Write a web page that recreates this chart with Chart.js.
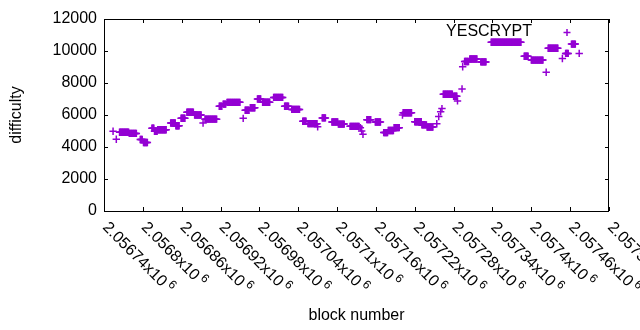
<!DOCTYPE html>
<html><head><meta charset="utf-8">
<script src="https://cdn.jsdelivr.net/npm/chart.js@4/dist/chart.umd.min.js"></script>
<style>html,body{margin:0;padding:0;background:#fff;}canvas{display:block;}</style>
</head><body>
<canvas id="c" width="640" height="330"></canvas>
<script>
// ---- data (block offsets are relative to BASE_BLOCK) ----
const BASE_BLOCK = 2056740;
const seriesName = "YESCRYPT";
// runs of consecutive blocks with (nearly) the same difficulty
const runStart = [24,39,56,61,74,78,83,103,111,119,128,140,156,178,184,190,218,226,237,245,262,279,290,307,315,337,352,362,380,406,419,432,439,448,462,480,491,499,524,540,557,565,582,598,649,660,686,713,722];
const runEnd   = [38,50,59,67,77,82,96,110,116,125,138,150,174,182,188,210,224,233,242,256,276,285,302,312,329,342,361,371,394,412,427,438,447,456,475,490,498,508,538,545,563,576,590,644,655,678,701,717,728];
const runValue = [4920,4850,4470,4280,5170,4980,5080,5500,5330,5800,6170,6000,5740,6550,6680,6790,6300,6450,7000,6800,7100,6550,6350,5610,5460,5820,5560,5430,5290,5710,5560,4900,5030,5210,6140,5580,5380,5250,7300,7170,9340,9500,9320,10550,9670,9430,10170,9850,10430];
// isolated blocks
const singleOffset = [14,19,153,215,330,396,398,400,461,514,517,520,522,546,553,554,683,708,734];
const singleValue  = [4980,4480,5500,5790,5270,5200,5000,4790,6000,5450,5900,6200,6400,6880,7630,9020,8670,9530,9850];
// axis ticks
const xTickValues = [2056740,2056800,2056860,2056920,2056980,2057040,2057100,2057160,2057220,2057280,2057340,2057400,2057460,2057520];
const xTickLabels = ["2.05674","2.0568","2.05686","2.05692","2.05698","2.05704","2.0571","2.05716","2.05722","2.05728","2.05734","2.0574","2.05746","2.05752"];
const yTickValues = [0,2000,4000,6000,8000,10000,12000];
const yTickLabels = ["0","2000","4000","6000","8000","10000","12000"];
const xTitle = "block number";
const yTitle = "difficulty";

const COLOR = '#9400D3';
const FONT = '"Liberation Sans", Arial, sans-serif';

const points = [];
runStart.forEach((s, i) => {
  for (let b = s; b <= runEnd[i]; b++) points.push({x: BASE_BLOCK + b, y: runValue[i]});
});
singleOffset.forEach((b, i) => points.push({x: BASE_BLOCK + b, y: singleValue[i]}));

const axesPlugin = {
  id: 'gnuplotAxes',
  afterDraw(chart) {
    const ctx = chart.ctx, a = chart.chartArea;
    const xs = chart.scales.x, ys = chart.scales.y;
    ctx.save();
    ctx.strokeStyle = '#000';
    ctx.lineWidth = 1;
    ctx.strokeRect(a.left + 0.5, a.top + 0.5, a.right - a.left - 1, a.bottom - a.top);
    const T = 4;
    ctx.beginPath();
    yTickValues.forEach(v => {
      const y = Math.round(ys.getPixelForValue(v)) + 0.5;
      ctx.moveTo(a.left, y); ctx.lineTo(a.left + T, y);
      ctx.moveTo(a.right, y); ctx.lineTo(a.right - T, y);
    });
    xTickValues.forEach(v => {
      const x = Math.round(xs.getPixelForValue(v)) + 0.5;
      ctx.moveTo(x, a.bottom); ctx.lineTo(x, a.bottom - T);
      ctx.moveTo(x, a.top); ctx.lineTo(x, a.top + T);
    });
    ctx.stroke();
    ctx.fillStyle = '#000';
    ctx.font = '16px ' + FONT;
    ctx.textAlign = 'right'; ctx.textBaseline = 'middle';
    yTickValues.forEach((v, i) => {
      ctx.fillText(yTickLabels[i], a.left - 7, ys.getPixelForValue(v));
    });
    xTickValues.forEach((v, i) => {
      const x = xs.getPixelForValue(v);
      ctx.save();
      ctx.translate(x + 1, a.bottom + 14);
      ctx.rotate(Math.PI / 4);
      ctx.font = '16px ' + FONT;
      ctx.textAlign = 'left'; ctx.textBaseline = 'middle';
      const main = xTickLabels[i] + 'x10';
      ctx.fillText(main, 0, 0);
      const w = ctx.measureText(main).width;
      ctx.font = '12px ' + FONT;
      ctx.fillText('6', w + 3, -5);
      ctx.restore();
    });
    ctx.font = '16px ' + FONT;
    ctx.textAlign = 'center'; ctx.textBaseline = 'middle';
    ctx.fillText(xTitle, (a.left + a.right) / 2, 316);
    ctx.save();
    ctx.translate(17, (a.top + a.bottom) / 2);
    ctx.rotate(-Math.PI / 2);
    ctx.fillText(yTitle, 0, 0);
    ctx.restore();
    ctx.textAlign = 'right';
    ctx.fillText(seriesName, 532, 32);
    ctx.strokeStyle = COLOR; ctx.lineWidth = 1.5;
    ctx.beginPath();
    ctx.moveTo(567 - 3.5, 32.5); ctx.lineTo(567 + 3.5, 32.5);
    ctx.moveTo(567, 32.5 - 3.5); ctx.lineTo(567, 32.5 + 3.5);
    ctx.stroke();
    ctx.restore();
  }
};

new Chart(document.getElementById('c'), {
  type: 'scatter',
  data: {
    datasets: [{
      label: seriesName,
      data: points,
      pointStyle: 'cross',
      pointRadius: 3.7,
      pointHoverRadius: 3.7,
      pointBorderWidth: 1.5,
      borderColor: COLOR,
      backgroundColor: COLOR,
      showLine: false
    }]
  },
  options: {
    responsive: false,
    animation: false,
    devicePixelRatio: 1,
    layout: { padding: { left: 104, right: 31, top: 19, bottom: 119 } },
    plugins: { legend: { display: false }, tooltip: { enabled: false } },
    events: [],
    scales: {
      x: { type: 'linear', min: 2056740, max: 2057520, display: false },
      y: { type: 'linear', min: 0, max: 12000, display: false }
    }
  },
  plugins: [axesPlugin]
});
</script>
</body></html>
